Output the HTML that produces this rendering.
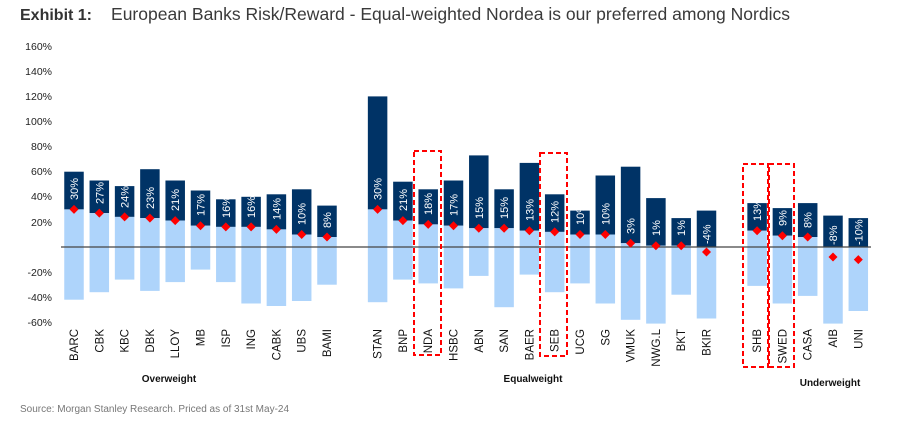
<!DOCTYPE html>
<html><head><meta charset="utf-8"><style>
html,body{margin:0;padding:0;background:#fff;width:919px;height:425px;overflow:hidden}
svg{display:block;font-family:"Liberation Sans",Arial,sans-serif}
.d{fill:#003366}.l{fill:#aed4fb}.v{fill:#fff;font-size:11px}.c{fill:#111;font-size:11.5px}.y{fill:#222;font-size:10.5px;text-anchor:end}
.k{fill:#f00}.b{fill:none;stroke:#f00;stroke-width:2;stroke-dasharray:5,3}
</style></head><body>
<svg width="919" height="425" viewBox="0 0 919 425" xmlns="http://www.w3.org/2000/svg">
<text x="20" y="20" font-size="16" font-weight="bold" fill="#333">Exhibit 1:</text>
<text x="111" y="20" font-size="17.5" fill="#3a3a3a" textLength="679" lengthAdjust="spacingAndGlyphs">European Banks Risk/Reward - Equal-weighted Nordea is our preferred among Nordics</text>
<g class="y">
<text x="52" y="50">160%</text><text x="52" y="75">140%</text><text x="52" y="100">120%</text><text x="52" y="125">100%</text><text x="52" y="150">80%</text><text x="52" y="175">60%</text><text x="52" y="200">40%</text><text x="52" y="226">20%</text><text x="52" y="276">-20%</text><text x="52" y="301">-40%</text><text x="52" y="326">-60%</text>
</g>
<g id="bars">
<rect class="d" x="64.25" y="171.7" width="19.5" height="37.7"/><rect class="l" x="64.25" y="209.4" width="19.5" height="90.3"/>
<rect class="d" x="89.55" y="180.5" width="19.5" height="32.6"/><rect class="l" x="89.55" y="213.1" width="19.5" height="79.1"/>
<rect class="d" x="114.85" y="186.1" width="19.5" height="30.8"/><rect class="l" x="114.85" y="216.9" width="19.5" height="62.7"/>
<rect class="d" x="140.15" y="169.2" width="19.5" height="48.9"/><rect class="l" x="140.15" y="218.1" width="19.5" height="72.8"/>
<rect class="d" x="165.45" y="180.5" width="19.5" height="40.1"/><rect class="l" x="165.45" y="220.6" width="19.5" height="61.5"/>
<rect class="d" x="190.75" y="190.5" width="19.5" height="35.2"/><rect class="l" x="190.75" y="225.7" width="19.5" height="43.9"/>
<rect class="d" x="216.05" y="199.3" width="19.5" height="27.6"/><rect class="l" x="216.05" y="226.9" width="19.5" height="55.2"/>
<rect class="d" x="241.35" y="196.8" width="19.5" height="30.1"/><rect class="l" x="241.35" y="226.9" width="19.5" height="76.6"/>
<rect class="d" x="266.65" y="194.3" width="19.5" height="35.1"/><rect class="l" x="266.65" y="229.4" width="19.5" height="76.6"/>
<rect class="d" x="291.95" y="189.3" width="19.5" height="45.2"/><rect class="l" x="291.95" y="234.5" width="19.5" height="66.5"/>
<rect class="d" x="317.25" y="205.6" width="19.5" height="31.4"/><rect class="l" x="317.25" y="237" width="19.5" height="47.7"/>
<rect class="d" x="367.85" y="96.4" width="19.5" height="113"/><rect class="l" x="367.85" y="209.4" width="19.5" height="92.8"/>
<rect class="d" x="393.15" y="181.7" width="19.5" height="38.9"/><rect class="l" x="393.15" y="220.6" width="19.5" height="59"/>
<rect class="d" x="418.45" y="189.3" width="19.5" height="35.1"/><rect class="l" x="418.45" y="224.4" width="19.5" height="59"/>
<rect class="d" x="443.75" y="180.5" width="19.5" height="45.2"/><rect class="l" x="443.75" y="225.7" width="19.5" height="62.7"/>
<rect class="d" x="469.05" y="155.4" width="19.5" height="72.8"/><rect class="l" x="469.05" y="228.2" width="19.5" height="47.7"/>
<rect class="d" x="494.35" y="189.3" width="19.5" height="38.9"/><rect class="l" x="494.35" y="228.2" width="19.5" height="79"/>
<rect class="d" x="519.65" y="162.9" width="19.5" height="67.8"/><rect class="l" x="519.65" y="230.7" width="19.5" height="43.9"/>
<rect class="d" x="544.95" y="194.3" width="19.5" height="37.6"/><rect class="l" x="544.95" y="231.9" width="19.5" height="60.3"/>
<rect class="d" x="570.25" y="210.6" width="19.5" height="23.9"/><rect class="l" x="570.25" y="234.5" width="19.5" height="48.9"/>
<rect class="d" x="595.55" y="175.5" width="19.5" height="59"/><rect class="l" x="595.55" y="234.5" width="19.5" height="69"/>
<rect class="d" x="620.85" y="166.7" width="19.5" height="76.5"/><rect class="l" x="620.85" y="243.2" width="19.5" height="76.6"/>
<rect class="d" x="646.15" y="198.1" width="19.5" height="47.6"/><rect class="l" x="646.15" y="245.7" width="19.5" height="77.9"/>
<rect class="d" x="671.45" y="218.1" width="19.5" height="27.6"/><rect class="l" x="671.45" y="245.7" width="19.5" height="49"/>
<rect class="d" x="696.75" y="210.6" width="19.5" height="36.4"/><rect class="l" x="696.75" y="247" width="19.5" height="71.5"/>
<rect class="d" x="747.35" y="203.1" width="19.5" height="27.6"/><rect class="l" x="747.35" y="230.7" width="19.5" height="55.2"/>
<rect class="d" x="772.65" y="208.1" width="19.5" height="27.6"/><rect class="l" x="772.65" y="235.7" width="19.5" height="67.8"/>
<rect class="d" x="797.95" y="203.1" width="19.5" height="33.9"/><rect class="l" x="797.95" y="237" width="19.5" height="58.9"/>
<rect class="d" x="823.25" y="215.6" width="19.5" height="31.4"/><rect class="l" x="823.25" y="247" width="19.5" height="76.6"/>
<rect class="d" x="848.55" y="218.1" width="19.5" height="28.9"/><rect class="l" x="848.55" y="247" width="19.5" height="64"/>
</g>
<line x1="61" y1="247" x2="871" y2="247" stroke="#444" stroke-width="1.2"/>
<g class="v">
<text transform="translate(78,200) rotate(-90)">30%</text>
<text transform="translate(103.3,204) rotate(-90)">27%</text>
<text transform="translate(128.6,208) rotate(-90)">24%</text>
<text transform="translate(153.9,209) rotate(-90)">23%</text>
<text transform="translate(179.2,211) rotate(-90)">21%</text>
<text transform="translate(204.5,216) rotate(-90)">17%</text>
<text transform="translate(229.8,218) rotate(-90)">16%</text>
<text transform="translate(255.1,218) rotate(-90)">16%</text>
<text transform="translate(280.4,220) rotate(-90)">14%</text>
<text transform="translate(305.7,225) rotate(-90)">10%</text>
<text transform="translate(331,228) rotate(-90)">8%</text>
<text transform="translate(381.6,200) rotate(-90)">30%</text>
<text transform="translate(406.9,211) rotate(-90)">21%</text>
<text transform="translate(432.2,215) rotate(-90)">18%</text>
<text transform="translate(457.5,216) rotate(-90)">17%</text>
<text transform="translate(482.8,219) rotate(-90)">15%</text>
<text transform="translate(508.1,219) rotate(-90)">15%</text>
<text transform="translate(533.4,221) rotate(-90)">13%</text>
<text transform="translate(558.7,223) rotate(-90)">12%</text>
<text transform="translate(584,225) rotate(-90)">10%</text>
<text transform="translate(609.3,225) rotate(-90)">10%</text>
<text transform="translate(634.6,234) rotate(-90)">3%</text>
<text transform="translate(659.9,236) rotate(-90)">1%</text>
<text transform="translate(685.2,236) rotate(-90)">1%</text>
<text transform="translate(710.5,244) rotate(-90)">-4%</text>
<text transform="translate(761.1,221) rotate(-90)">13%</text>
<text transform="translate(786.4,226) rotate(-90)">9%</text>
<text transform="translate(811.7,228) rotate(-90)">8%</text>
<text transform="translate(837,245) rotate(-90)">-8%</text>
<text transform="translate(862.3,245) rotate(-90)">-10%</text>
</g>
<g class="k">
<polygon points="74,204.9 78.5,209.4 74,213.9 69.5,209.4"/>
<polygon points="99.3,208.6 103.8,213.1 99.3,217.6 94.8,213.1"/>
<polygon points="124.6,212.4 129.1,216.9 124.6,221.4 120.1,216.9"/>
<polygon points="149.9,213.6 154.4,218.1 149.9,222.6 145.4,218.1"/>
<polygon points="175.2,216.1 179.7,220.6 175.2,225.1 170.7,220.6"/>
<polygon points="200.5,221.2 205,225.7 200.5,230.2 196,225.7"/>
<polygon points="225.8,222.4 230.3,226.9 225.8,231.4 221.3,226.9"/>
<polygon points="251.1,222.4 255.6,226.9 251.1,231.4 246.6,226.9"/>
<polygon points="276.4,224.9 280.9,229.4 276.4,233.9 271.9,229.4"/>
<polygon points="301.7,230 306.2,234.5 301.7,239 297.2,234.5"/>
<polygon points="327,232.5 331.5,237 327,241.5 322.5,237"/>
<polygon points="377.6,204.9 382.1,209.4 377.6,213.9 373.1,209.4"/>
<polygon points="402.9,216.1 407.4,220.6 402.9,225.1 398.4,220.6"/>
<polygon points="428.2,219.9 432.7,224.4 428.2,228.9 423.7,224.4"/>
<polygon points="453.5,221.2 458,225.7 453.5,230.2 449,225.7"/>
<polygon points="478.8,223.7 483.3,228.2 478.8,232.7 474.3,228.2"/>
<polygon points="504.1,223.7 508.6,228.2 504.1,232.7 499.6,228.2"/>
<polygon points="529.4,226.2 533.9,230.7 529.4,235.2 524.9,230.7"/>
<polygon points="554.7,227.4 559.2,231.9 554.7,236.4 550.2,231.9"/>
<polygon points="580,230 584.5,234.5 580,239 575.5,234.5"/>
<polygon points="605.3,230 609.8,234.5 605.3,239 600.8,234.5"/>
<polygon points="630.6,238.7 635.1,243.2 630.6,247.7 626.1,243.2"/>
<polygon points="655.9,241.2 660.4,245.7 655.9,250.2 651.4,245.7"/>
<polygon points="681.2,241.2 685.7,245.7 681.2,250.2 676.7,245.7"/>
<polygon points="706.5,247.5 711,252 706.5,256.5 702,252"/>
<polygon points="757.1,226.2 761.6,230.7 757.1,235.2 752.6,230.7"/>
<polygon points="782.4,231.2 786.9,235.7 782.4,240.2 777.9,235.7"/>
<polygon points="807.7,232.5 812.2,237 807.7,241.5 803.2,237"/>
<polygon points="833,252.5 837.5,257 833,261.5 828.5,257"/>
<polygon points="858.3,255.1 862.8,259.6 858.3,264.1 853.8,259.6"/>
</g>
<g class="c" text-anchor="end">
<text transform="translate(78,329) rotate(-90)">BARC</text>
<text transform="translate(103.3,329) rotate(-90)">CBK</text>
<text transform="translate(128.6,329) rotate(-90)">KBC</text>
<text transform="translate(153.9,329) rotate(-90)">DBK</text>
<text transform="translate(179.2,329) rotate(-90)">LLOY</text>
<text transform="translate(204.5,329) rotate(-90)">MB</text>
<text transform="translate(229.8,329) rotate(-90)">ISP</text>
<text transform="translate(255.1,329) rotate(-90)">ING</text>
<text transform="translate(280.4,329) rotate(-90)">CABK</text>
<text transform="translate(305.7,329) rotate(-90)">UBS</text>
<text transform="translate(331,329) rotate(-90)">BAMI</text>
<text transform="translate(381.6,329) rotate(-90)">STAN</text>
<text transform="translate(406.9,329) rotate(-90)">BNP</text>
<text transform="translate(432.2,329) rotate(-90)">NDA</text>
<text transform="translate(457.5,329) rotate(-90)">HSBC</text>
<text transform="translate(482.8,329) rotate(-90)">ABN</text>
<text transform="translate(508.1,329) rotate(-90)">SAN</text>
<text transform="translate(533.4,329) rotate(-90)">BAER</text>
<text transform="translate(558.7,329) rotate(-90)">SEB</text>
<text transform="translate(584,329) rotate(-90)">UCG</text>
<text transform="translate(609.3,329) rotate(-90)">SG</text>
<text transform="translate(634.6,329) rotate(-90)">VMUK</text>
<text transform="translate(659.9,329) rotate(-90)">NWG.L</text>
<text transform="translate(685.2,329) rotate(-90)">BKT</text>
<text transform="translate(710.5,329) rotate(-90)">BKIR</text>
<text transform="translate(761.1,329) rotate(-90)">SHB</text>
<text transform="translate(786.4,329) rotate(-90)">SWED</text>
<text transform="translate(811.7,329) rotate(-90)">CASA</text>
<text transform="translate(837,329) rotate(-90)">AIB</text>
<text transform="translate(862.3,329) rotate(-90)">UNI</text>
</g>
<rect class="b" x="414" y="151" width="27" height="204"/>
<rect class="b" x="540" y="153" width="27" height="203"/>
<rect class="b" x="743" y="164" width="25" height="203"/>
<rect class="b" x="769" y="164" width="25" height="203"/>
<g font-size="10" font-weight="bold" fill="#111" text-anchor="middle">
<text x="169" y="382">Overweight</text>
<text x="533" y="382">Equalweight</text>
<text x="830" y="386">Underweight</text>
</g>
<text x="20" y="412" font-size="10" fill="#777">Source: Morgan Stanley Research. Priced as of 31st May-24</text>
</svg>
</body></html>
